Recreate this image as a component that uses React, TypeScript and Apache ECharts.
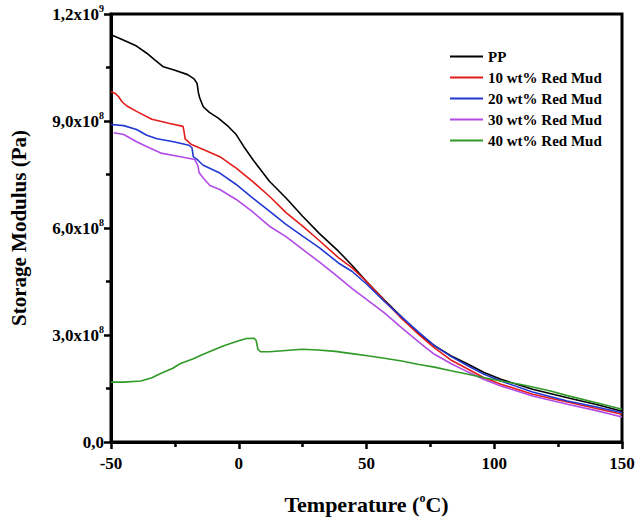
import * as echarts from "echarts"
import { useEffect, useRef } from "react"

// Storage modulus in units of 1e8 Pa, temperatures in °C
const ppTemp = [-50, -47, -43, -40, -36, -33, -29.5, -25, -20, -17.5, -16.3, -15.8, -15.3, -13.9, -11.5, -8, -4, -1, 2, 5.5, 12, 18.5, 25, 31.5, 39, 44.4, 50, 57, 63.8, 70, 76.6, 83, 89.8, 96, 102.6, 115, 128.6, 140, 150]
const ppModulus = [11.42, 11.33, 11.2, 11.1, 10.9, 10.72, 10.52, 10.42, 10.3, 10.18, 10.05, 9.8, 9.65, 9.4, 9.24, 9.08, 8.84, 8.62, 8.28, 7.92, 7.31, 6.84, 6.33, 5.85, 5.35, 4.95, 4.5, 3.98, 3.5, 3.05, 2.7, 2.42, 2.18, 1.95, 1.76, 1.48, 1.24, 1.05, 0.86]

const rm10Temp = [-50, -48.5, -47, -45.7, -43.8, -40, -34, -27, -21.8, -21.4, -21, -18.5, -13.9, -7.4, -1, 5.5, 12, 18.5, 25, 31.5, 39, 44.4, 50, 57, 63.8, 70.4, 76.6, 83, 89.8, 96, 102.6, 115, 128.6, 140, 150]
const rm10Modulus = [9.82, 9.78, 9.68, 9.54, 9.42, 9.27, 9.05, 8.93, 8.85, 8.7, 8.5, 8.34, 8.2, 8.0, 7.68, 7.3, 6.89, 6.43, 6.05, 5.65, 5.17, 4.88, 4.5, 3.96, 3.46, 3.02, 2.64, 2.3, 2.04, 1.8, 1.62, 1.34, 1.12, 0.94, 0.78]

const rm20Temp = [-50, -45, -40, -36, -32, -25.5, -19.5, -18.3, -17.8, -16, -13.9, -7.4, -1, 5.5, 12, 18.5, 25, 31.5, 39, 44.4, 50, 57, 63.8, 70.4, 76.6, 83, 89.8, 96, 102.6, 115, 128.6, 140, 150]
const rm20Modulus = [8.9, 8.87, 8.76, 8.6, 8.5, 8.42, 8.32, 8.25, 8.0, 7.9, 7.76, 7.54, 7.22, 6.84, 6.47, 6.1, 5.77, 5.45, 5.02, 4.78, 4.43, 3.94, 3.5, 3.08, 2.7, 2.4, 2.13, 1.9, 1.71, 1.4, 1.15, 0.98, 0.82]

const rm30Temp = [-49, -45, -40, -35, -30.5, -22.8, -17.2, -16, -15.5, -13.9, -11.3, -7.4, -1, 5.5, 12, 18.5, 25, 31.5, 38, 44.4, 50, 57, 63.8, 71.6, 76.6, 83, 89.8, 96, 102.6, 115, 128.6, 140, 150]
const rm30Modulus = [8.67, 8.62, 8.42, 8.25, 8.1, 8.0, 7.92, 7.75, 7.55, 7.4, 7.19, 7.08, 6.8, 6.45, 6.05, 5.76, 5.4, 5.05, 4.68, 4.3, 4.0, 3.62, 3.2, 2.74, 2.46, 2.2, 1.96, 1.75, 1.57, 1.29, 1.06, 0.88, 0.7]

const rm40Temp = [-50, -45, -38.3, -34, -30.6, -26, -22.8, -18, -13.9, -6.1, 0, 3, 6, 6.8, 7.5, 8.5, 12, 17.2, 24.9, 31, 37.8, 45, 51, 57, 63.8, 70, 76.6, 83, 89.8, 96, 102.6, 110, 115, 122, 128.6, 140, 150]
const rm40Modulus = [1.68, 1.68, 1.71, 1.8, 1.92, 2.06, 2.2, 2.33, 2.46, 2.69, 2.84, 2.9, 2.91, 2.85, 2.6, 2.53, 2.53, 2.56, 2.6, 2.58, 2.54, 2.47, 2.41, 2.35, 2.27, 2.18, 2.1, 2.0, 1.9, 1.8, 1.71, 1.62, 1.54, 1.43, 1.3, 1.1, 0.92]

const seriesNames = ["PP", "10 wt% Red Mud", "20 wt% Red Mud", "30 wt% Red Mud", "40 wt% Red Mud"]
const seriesColors = ["#000000", "#e31b1b", "#2238d2", "#b24ae6", "#2f9a26"]
const seriesTemps = [ppTemp, rm10Temp, rm20Temp, rm30Temp, rm40Temp]
const seriesModulus = [ppModulus, rm10Modulus, rm20Modulus, rm30Modulus, rm40Modulus]

const FONT = "Liberation Serif"

const yLabel = (v: number) => {
    if (v === 0) return "{t|0,0}"
    const exp = Math.floor(Math.log10(v) + 1e-9)
    const mant = (v / Math.pow(10, exp)).toFixed(1).replace(".", ",")
    return `{t|${mant}x10}{s|${exp}}`
}

const App: React.FC = () => {
    const divRef = useRef<HTMLDivElement | null>(null)

    useEffect(() => {
        if (!divRef.current) return
        const chart = echarts.init(divRef.current, null, { renderer: "svg" })

        const option = {
            animation: false,
            backgroundColor: "#ffffff",
            grid: {
                left: 107, right: 18, top: 14, bottom: 77,
                show: true, borderColor: "#000", borderWidth: 3, backgroundColor: "transparent"
            },
            legend: {
                orient: "vertical",
                left: 445,
                top: 41,
                itemWidth: 33,
                itemHeight: 2,
                itemGap: 0,
                icon: "rect",
                data: seriesNames,
                textStyle: { fontFamily: FONT, fontWeight: "bold", fontSize: 15, color: "#000", lineHeight: 21 }
            },
            xAxis: {
                type: "value",
                min: -50, max: 150, interval: 50,
                name: "{t|Temperature (}{s|o}{t|C)}",
                nameLocation: "middle",
                nameGap: 50,
                nameTextStyle: {
                    rich: {
                        t: { fontFamily: FONT, fontWeight: "bold", fontSize: 22, color: "#000" },
                        s: { fontFamily: FONT, fontWeight: "bold", fontSize: 12, color: "#000", padding: [0, 0, 12, 0] }
                    }
                },
                axisLine: { onZero: false, lineStyle: { color: "#000", width: 3 } },
                axisTick: { inside: false, length: 7, lineStyle: { width: 2.5, color: "#000" } },
                minorTick: { show: true, splitNumber: 2, length: 5, lineStyle: { width: 2.5, color: "#000" } },
                splitLine: { show: false },
                axisLabel: { fontFamily: FONT, fontWeight: "bold", fontSize: 17, color: "#000", margin: 13 }
            },
            yAxis: {
                type: "value",
                min: 0, max: 12e8, interval: 3e8,
                name: "Storage Modulus (Pa)",
                nameLocation: "middle",
                nameRotate: 90,
                nameGap: 82,
                nameTextStyle: { fontFamily: FONT, fontWeight: "bold", fontSize: 21, color: "#000" },
                axisLine: { onZero: false, lineStyle: { color: "#000", width: 3 } },
                axisTick: { inside: false, length: 7, lineStyle: { width: 2.5, color: "#000" } },
                minorTick: { show: true, splitNumber: 2, length: 5, lineStyle: { width: 2.5, color: "#000" } },
                splitLine: { show: false },
                axisLabel: {
                    margin: 7,
                    formatter: yLabel,
                    rich: {
                        t: { fontFamily: FONT, fontWeight: "bold", fontSize: 17, color: "#000" },
                        s: { fontFamily: FONT, fontWeight: "bold", fontSize: 10, color: "#000", padding: [0, 0, 12, 0] }
                    }
                }
            },
            series: seriesNames.map((name, i) => ({
                name,
                type: "line",
                symbol: "none",
                color: seriesColors[i],
                lineStyle: { width: 1.6, color: seriesColors[i] },
                data: seriesTemps[i].map((t, j) => [t, seriesModulus[i][j] * 1e8])
            }))
        }

        chart.setOption(option)
        return () => {
            chart.dispose()
        }
    }, [])

    return <div ref={divRef} style={{ position: "absolute", left: 0, top: 0, width: 640, height: 520 }}></div>
}

export default App
